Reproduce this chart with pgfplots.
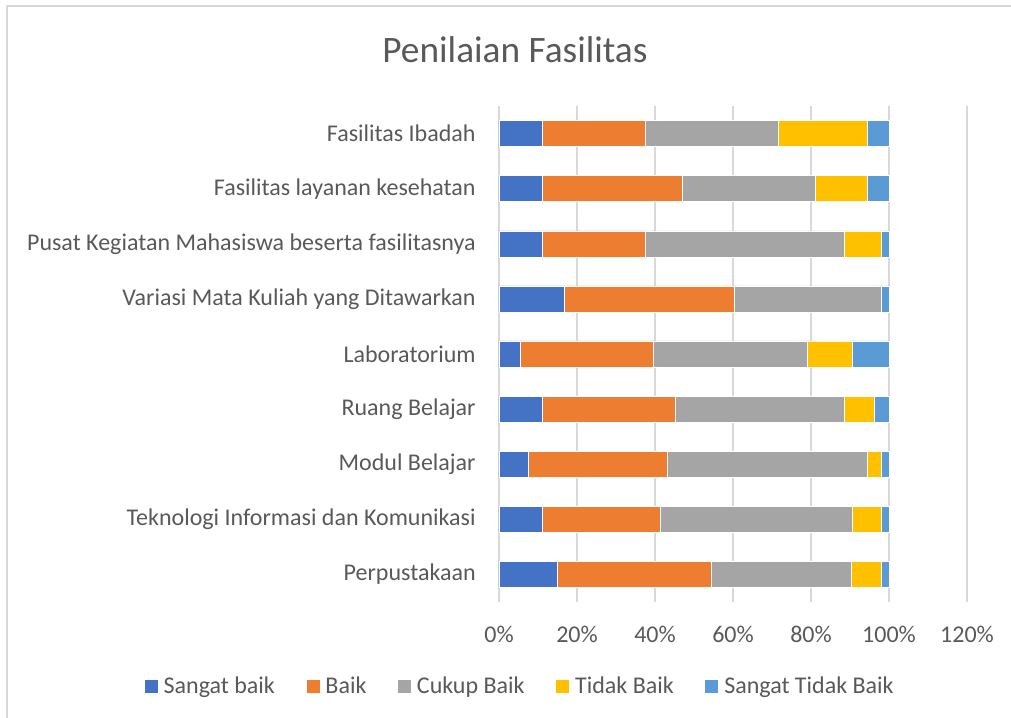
\documentclass[border=0pt]{standalone}
\usepackage{pgfplots}
\pgfplotsset{compat=1.18}
\usepackage{fontspec}
\setmainfont{Carlito}
\definecolor{txt}{HTML}{595959}
\definecolor{cA}{HTML}{4472C4}
\definecolor{cB}{HTML}{ED7D31}
\definecolor{cC}{HTML}{A5A5A5}
\definecolor{cD}{HTML}{FFC000}
\definecolor{cE}{HTML}{5B9BD5}
\definecolor{gridc}{HTML}{D9D9D9}
\begin{document}
\begin{tikzpicture}[x=0.75pt,y=0.75pt]
\useasboundingbox (0,0) rectangle (1011,718);
\draw[gridc,line width=1pt] (7,0) -- (7,712) -- (1011,712);
\node[text=txt,font=\fontsize{28}{32}\selectfont] at (515,668) {Penilaian Fasilitas};
\begin{axis}[
  at={(499pt*0.75,116pt*0.75)}, anchor=south west,
  scale only axis,
  width=351pt, height=372pt,
  xbar stacked,
  bar width=19.5pt,
  xmin=0, xmax=120,
  ymin=-0.5, ymax=8.5,
  xtick={0,20,...,120},
  xticklabel={\pgfmathprintnumber{\tick}\%},
  /pgf/number format/assume math mode=true,
  ytick={0,...,8},
  yticklabels={Perpustakaan,Teknologi Informasi dan Komunikasi,Modul Belajar,Ruang Belajar,Laboratorium,Variasi Mata Kuliah yang Ditawarkan,Pusat Kegiatan Mahasiswa beserta fasilitasnya,Fasilitas layanan kesehatan,Fasilitas Ibadah},
  ticklabel style={text=txt,font=\fontsize{18}{21}\selectfont},
  yticklabel style={xshift=-14pt},
  xticklabel style={yshift=-14.5pt},
  major tick length=0pt,
  axis line style={draw=none},
  xmajorgrids, ymajorgrids=false,
  major x grid style={draw=gridc,line width=1.2pt},
  legend style={at={(0.045,-0.17)},anchor=center,legend columns=5,draw=none,
    font=\fontsize{18}{21}\selectfont,text=txt,
    /tikz/every odd column/.append style={column sep=2pt},
    /tikz/every even column/.append style={column sep=21pt}},
  legend image code/.code={\fill[#1] (0pt,-5.25pt) rectangle (10.5pt,5.25pt);},
  every axis plot/.append style={draw=white,line width=0.4pt},
]
\addplot[fill=cA] coordinates {(15.0,0) (11.1,1) (7.4,2) (11.1,3) (5.4,4) (16.8,5) (11.1,6) (11.1,7) (11.1,8)};
\addplot[fill=cB] coordinates {(39.5,0) (30.2,1) (35.8,2) (34.0,3) (34.1,4) (43.5,5) (26.5,6) (35.9,7) (26.5,8)};
\addplot[fill=cC] coordinates {(35.9,0) (49.2,1) (51.1,2) (43.4,3) (39.6,4) (37.8,5) (50.9,6) (34.0,7) (34.0,8)};
\addplot[fill=cD] coordinates {(7.7,0) (7.6,1) (3.8,2) (7.7,3) (11.4,4) (0,5) (9.6,6) (13.4,7) (22.8,8)};
\addplot[fill=cE] coordinates {(1.9,0) (1.9,1) (1.9,2) (3.8,3) (9.5,4) (1.9,5) (1.9,6) (5.6,7) (5.6,8)};
\legend{Sangat baik,Baik,Cukup Baik,Tidak Baik,Sangat Tidak Baik}
\end{axis}
\end{tikzpicture}
\end{document}
